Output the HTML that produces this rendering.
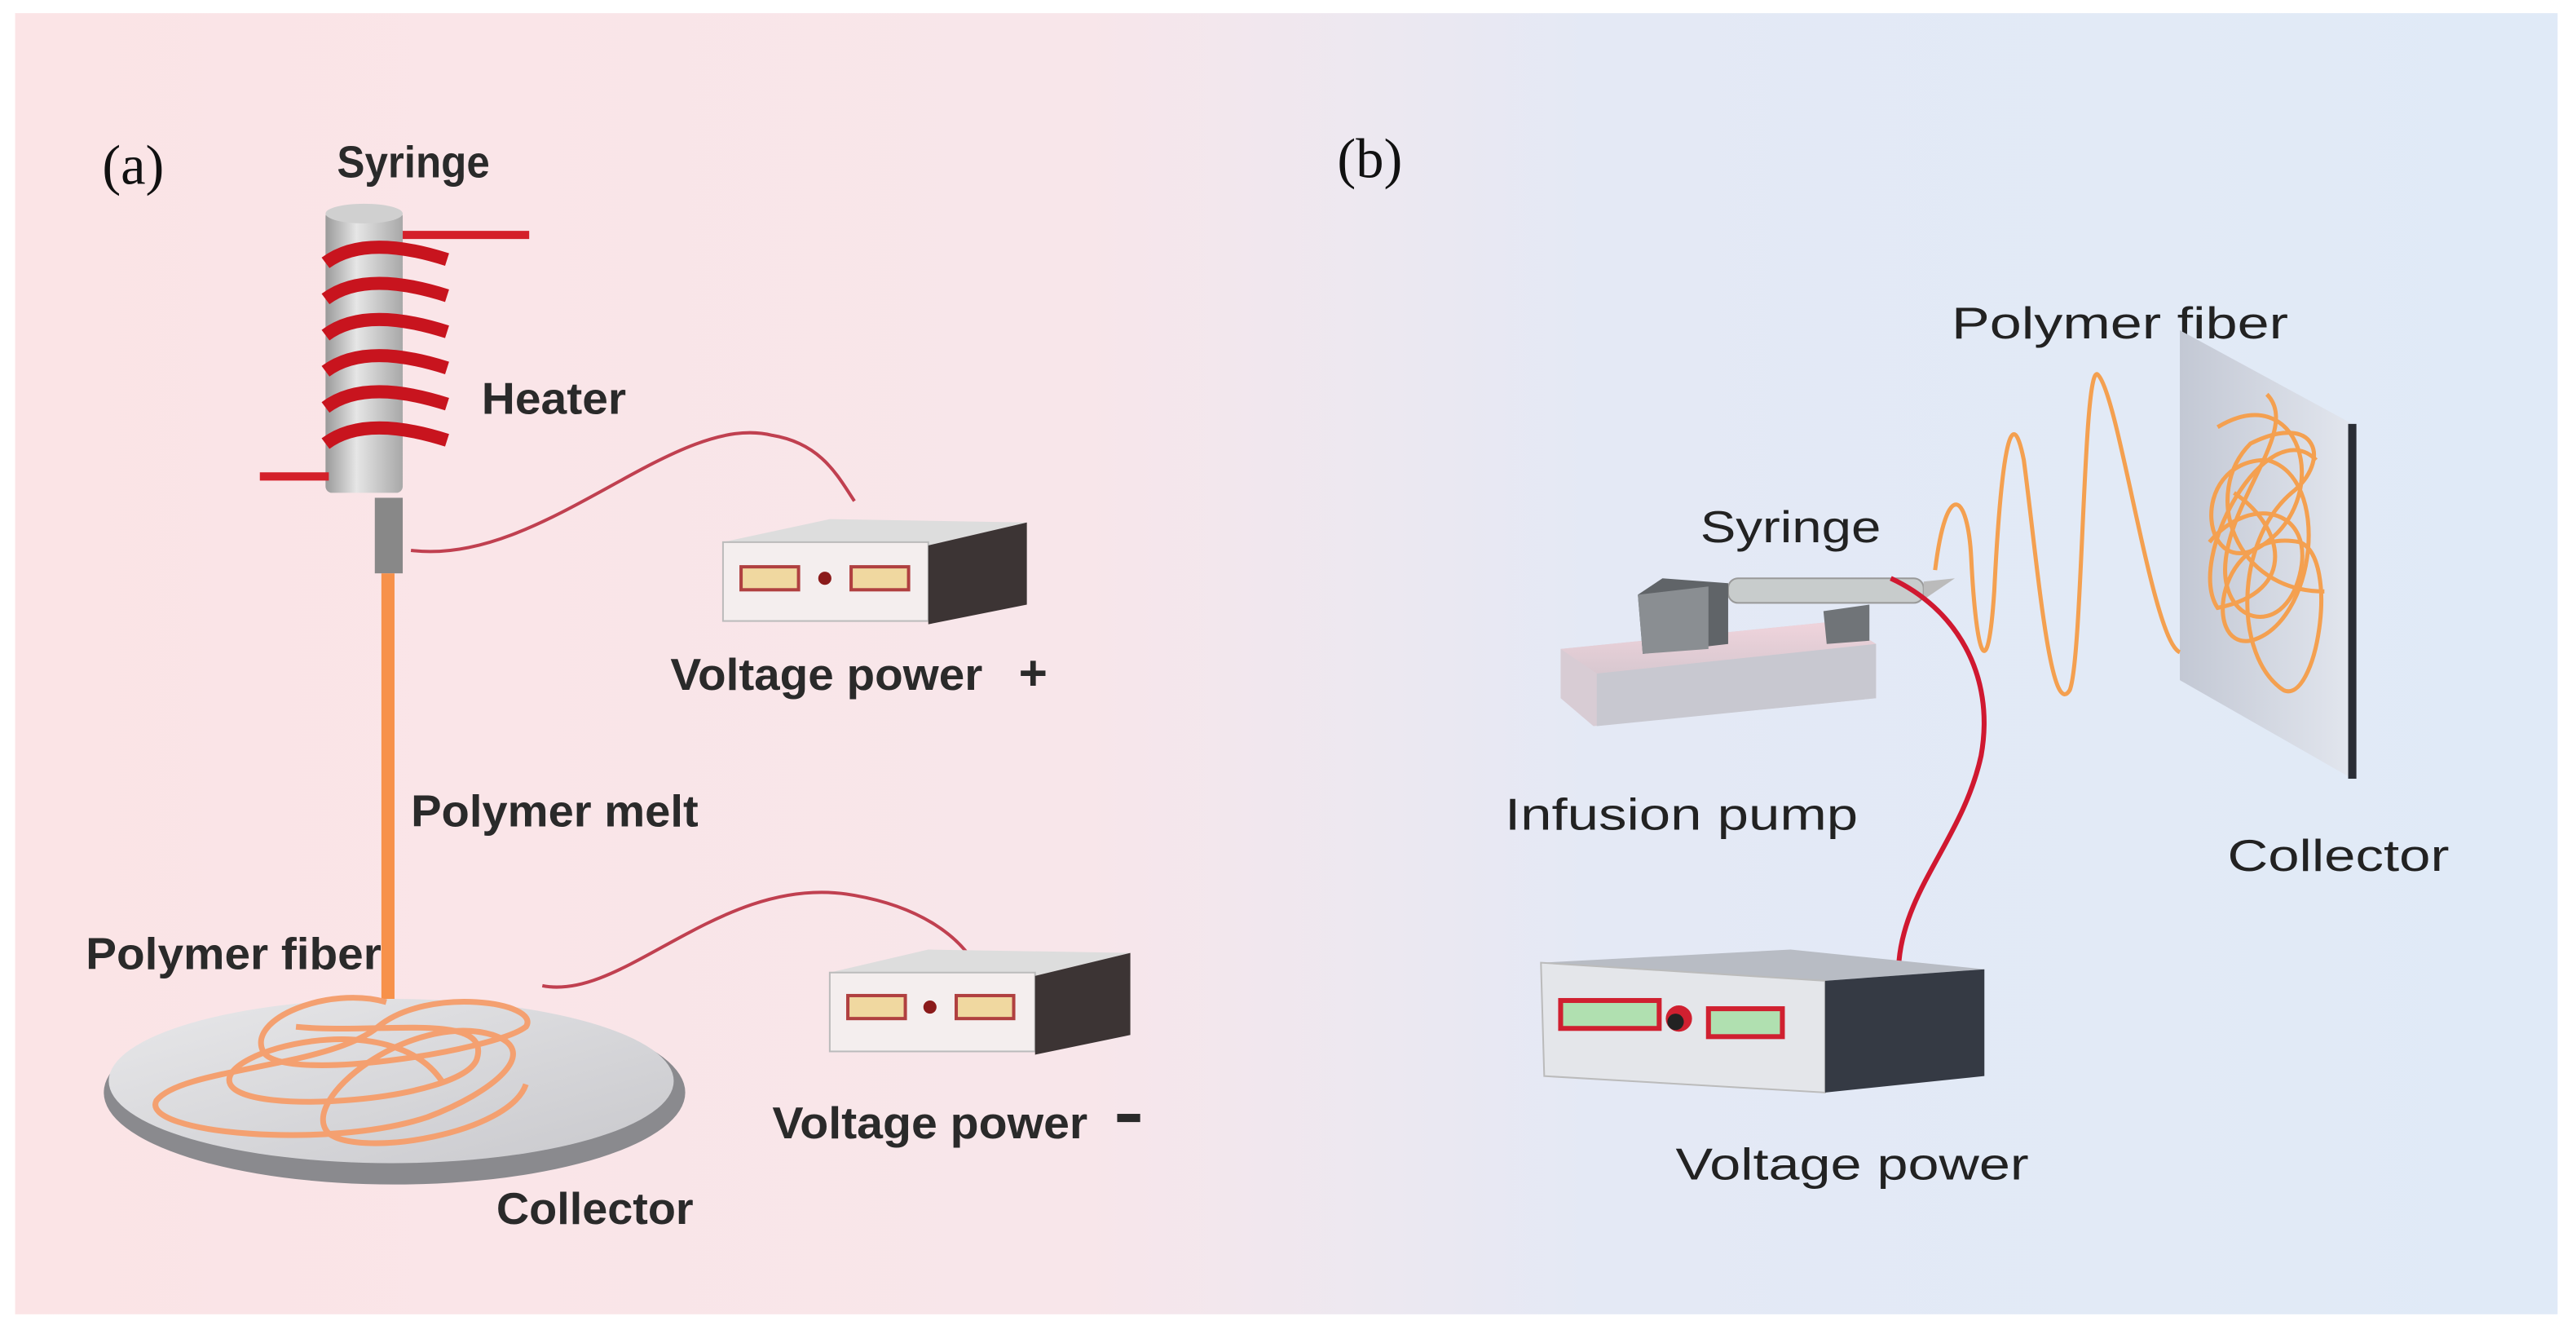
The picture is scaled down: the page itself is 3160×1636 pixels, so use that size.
<!DOCTYPE html>
<html><head><meta charset="utf-8"><style>html,body{margin:0;padding:0;background:#fff}svg{display:block}</style></head>
<body>
<svg width="3160" height="1636" viewBox="0 0 1568 812" xmlns="http://www.w3.org/2000/svg">
<defs>
<linearGradient id="bg" x1="0" x2="1" y1="0" y2="0">
<stop offset="0" stop-color="#fbe4e6"/><stop offset="0.42" stop-color="#f8e6ea"/>
<stop offset="0.62" stop-color="#e4e9f5"/><stop offset="1" stop-color="#e0eaf7"/></linearGradient>
<linearGradient id="cyl" x1="0" x2="1"><stop offset="0" stop-color="#9a9a9a"/><stop offset="0.4" stop-color="#e6e6e6"/><stop offset="1" stop-color="#a8a8a8"/></linearGradient>
<linearGradient id="disk" x1="0" x2="1" y1="0" y2="1"><stop offset="0" stop-color="#e8e8ea"/><stop offset="1" stop-color="#c8c8cc"/></linearGradient>
<linearGradient id="plate" x1="0" x2="1"><stop offset="0" stop-color="#c3c8d4"/><stop offset="1" stop-color="#e2e6ee"/></linearGradient>
<linearGradient id="pump" x1="0" x2="0" y1="0" y2="1"><stop offset="0" stop-color="#f0d4dc"/><stop offset="1" stop-color="#d8c8d0"/></linearGradient>
</defs>
<rect x="0" y="0" width="1568" height="812" fill="#fff"/>
<rect x="9" y="8" width="1548" height="792" fill="url(#bg)"/>
<g font-family="Liberation Sans, sans-serif" font-weight="bold" fill="#2a2a2a" font-size="27">
<text x="62" y="112" font-family="Liberation Serif, serif" font-weight="normal" font-size="34" fill="#111">(a)</text>
<text x="205" y="108" textLength="93" lengthAdjust="spacingAndGlyphs">Syringe</text>
<rect x="198" y="128" width="47" height="172" rx="4" fill="url(#cyl)"/>
<ellipse cx="221.5" cy="130" rx="23.5" ry="6" fill="#d0d0d0"/>
<line x1="245" y1="143" x2="322" y2="143" stroke="#d4202a" stroke-width="5"/>
<line x1="158" y1="290" x2="200" y2="290" stroke="#d4202a" stroke-width="5"/>
<g fill="none" stroke="#c8141e" stroke-width="8">
<path d="M198 160 Q222 142 272 158"/><path d="M198 182 Q222 164 272 180"/><path d="M198 204 Q222 186 272 202"/>
<path d="M198 226 Q222 208 272 224"/><path d="M198 248 Q222 230 272 246"/><path d="M198 270 Q222 252 272 268"/>
</g>
<text x="293" y="252" textLength="88" lengthAdjust="spacingAndGlyphs">Heater</text>
<rect x="228" y="303" width="17" height="46" fill="#888"/>
<rect x="232" y="349" width="8" height="265" fill="#f7914a"/>
<path d="M250 335 C330 345 410 250 470 265 C500 270 510 290 520 305" fill="none" stroke="#c04050" stroke-width="2"/>
<polygon points="440,330 505,316 625,318 565,332" fill="#ddd"/>
<rect x="440" y="330" width="125" height="48" fill="#f4eeee" stroke="#bbb"/>
<polygon points="565,332 625,318 625,368 565,380" fill="#3c3434"/>
<rect x="451" y="345" width="35" height="14" fill="#f0d8a0" stroke="#b04040" stroke-width="2"/>
<rect x="518" y="345" width="35" height="14" fill="#f0d8a0" stroke="#b04040" stroke-width="2"/>
<circle cx="502" cy="352" r="4" fill="#8a1a1a"/>
<text x="408" y="420" textLength="190" lengthAdjust="spacingAndGlyphs">Voltage power</text>
<text x="620" y="420" font-size="30">+</text>
<text x="250" y="503" textLength="175" lengthAdjust="spacingAndGlyphs">Polymer melt</text>
<ellipse cx="240" cy="665" rx="177" ry="56" fill="#8a8a8e"/>
<ellipse cx="238" cy="658" rx="172" ry="50" fill="url(#disk)"/>
<g fill="none" stroke="#f4a070" stroke-width="3.5">
<path d="M235 610 C200 600 150 620 160 640 C170 660 300 640 320 625 C330 610 260 600 230 625 C200 650 110 650 95 670 C85 690 200 700 260 680 C300 665 330 640 300 630 C250 615 180 670 200 690 C220 705 310 690 320 660"/>
<path d="M180 625 C230 630 300 615 290 645 C280 670 150 680 140 660 C130 640 240 610 270 660"/>
</g>
<text x="52" y="590" textLength="180" lengthAdjust="spacingAndGlyphs">Polymer fiber</text>
<text x="302" y="745" textLength="120" lengthAdjust="spacingAndGlyphs">Collector</text>
<path d="M330 600 C380 610 440 530 520 545 C560 552 585 570 595 590" fill="none" stroke="#c04050" stroke-width="2"/>
<polygon points="505,592 565,578 688,580 630,594" fill="#ddd"/>
<rect x="505" y="592" width="125" height="48" fill="#f4eeee" stroke="#bbb"/>
<polygon points="630,594 688,580 688,630 630,642" fill="#3c3434"/>
<rect x="516" y="606" width="35" height="14" fill="#f0d8a0" stroke="#b04040" stroke-width="2"/>
<rect x="582" y="606" width="35" height="14" fill="#f0d8a0" stroke="#b04040" stroke-width="2"/>
<circle cx="566" cy="613" r="4" fill="#8a1a1a"/>
<text x="470" y="693" textLength="192" lengthAdjust="spacingAndGlyphs">Voltage power</text>
<rect x="680" y="678" width="14" height="5" fill="#2a2a2a"/>
<text x="814" y="108" font-family="Liberation Serif, serif" font-weight="normal" font-size="34" fill="#111">(b)</text>
<text x="1188" y="206" font-weight="normal" textLength="205" lengthAdjust="spacingAndGlyphs" fill="#222">Polymer fiber</text>
<polygon points="1327,201 1432,258 1432,474 1327,414" fill="url(#plate)"/>
<line x1="1432" y1="258" x2="1432" y2="474" stroke="#2a2e36" stroke-width="5"/>
<g fill="none" stroke="#f4a050" stroke-width="2.5">
<path d="M1350 260 C1400 230 1420 300 1380 330 C1340 360 1330 280 1380 280 C1420 290 1410 380 1370 390 C1340 395 1350 320 1400 330 C1425 340 1410 430 1390 420 C1360 400 1360 330 1395 300 C1420 280 1410 250 1370 270 C1340 300 1360 360 1415 360"/>
<path d="M1360 300 C1390 320 1400 360 1350 370 C1330 340 1380 250 1410 280"/>
<path d="M1345 330 C1370 300 1410 310 1400 350 C1390 390 1350 380 1355 340 C1360 300 1400 260 1380 240"/>
</g>
<path d="M1178 347 C1185 290 1198 300 1200 340 C1203 400 1210 420 1214 360 C1218 280 1224 240 1232 280 C1240 340 1248 440 1260 420 C1268 400 1268 220 1277 228 C1290 240 1310 390 1327 397" fill="none" stroke="#f4a050" stroke-width="2.5"/>
<text x="1035" y="330" font-weight="normal" textLength="110" lengthAdjust="spacingAndGlyphs" fill="#222">Syringe</text>
<polygon points="950,395 1120,378 1142,392 1142,425 970,442 950,425" fill="#d8ccd4"/>
<polygon points="950,395 1120,378 1142,392 972,410" fill="url(#pump)"/>
<polygon points="972,410 1142,392 1142,425 972,442" fill="#c8c8d0"/>
<rect x="1052" y="352" width="119" height="15" rx="6" fill="#c8cccc" stroke="#999"/>
<polygon points="1171,354 1190,352 1171,365" fill="#bbb"/>
<polygon points="997,362 1012,352 1052,355 1052,392 1000,398" fill="#606468"/>
<polygon points="997,362 1040,357 1040,395 1000,398" fill="#8a8e92"/>
<polygon points="1110,372 1138,368 1138,390 1112,392" fill="#707478"/>
<path d="M1151 352 C1190 370 1215 410 1206 460 C1195 510 1160 540 1156 585" fill="none" stroke="#d01830" stroke-width="3"/>
<text x="916" y="505" font-weight="normal" textLength="215" lengthAdjust="spacingAndGlyphs" fill="#222">Infusion pump</text>
<text x="1356" y="530" font-weight="normal" textLength="135" lengthAdjust="spacingAndGlyphs" fill="#222">Collector</text>
<polygon points="938,586 1090,578 1208,590 1111,597" fill="#b8bcc4"/>
<polygon points="938,586 1111,597 1111,665 940,655" fill="#e4e6ea" stroke="#bbb"/>
<polygon points="1111,597 1208,590 1208,655 1111,665" fill="#353a44"/>
<rect x="950" y="609" width="60" height="17" fill="#b0e0b0" stroke="#d02030" stroke-width="3"/>
<rect x="1040" y="614" width="45" height="17" fill="#b0e0b0" stroke="#d02030" stroke-width="3"/>
<circle cx="1022" cy="620" r="8" fill="#d02030"/><circle cx="1020" cy="622" r="5" fill="#222"/>
<text x="1020" y="718" font-weight="normal" textLength="215" lengthAdjust="spacingAndGlyphs" fill="#222">Voltage power</text>
</g>
</svg>
</body></html>
